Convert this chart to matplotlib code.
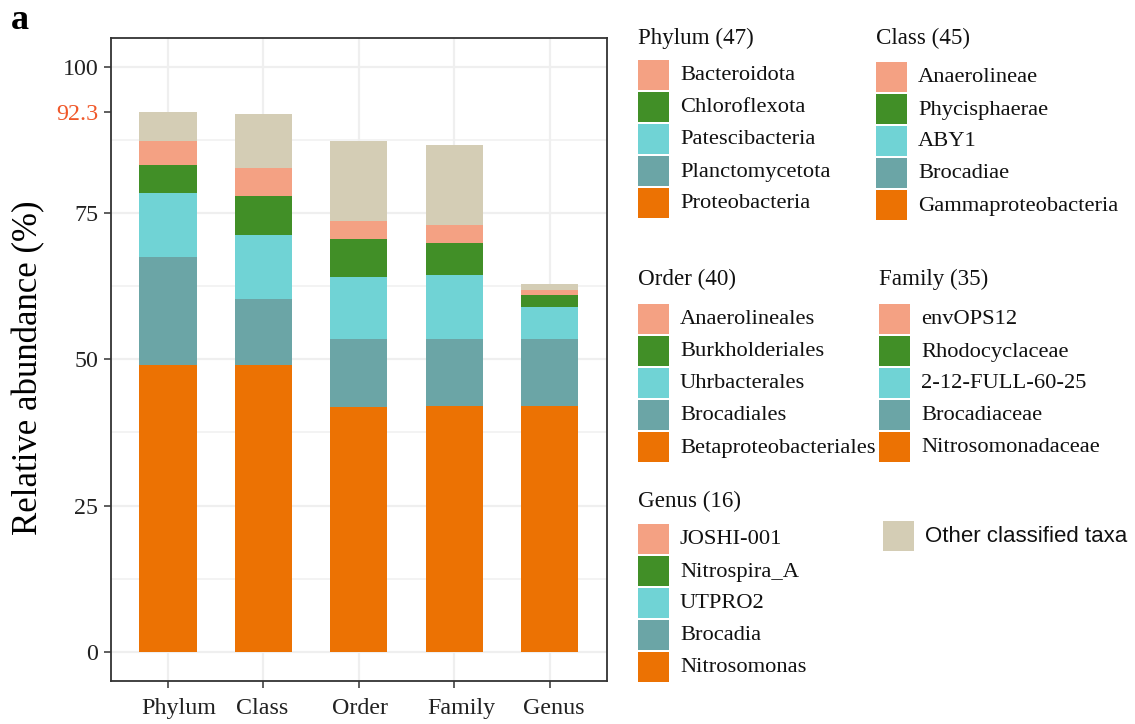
import matplotlib
matplotlib.use("Agg")
import matplotlib.pyplot as plt
from matplotlib.patches import Rectangle
from matplotlib.transforms import ScaledTranslation
import numpy as np

# Taxonomic levels on the x axis
levels = ["Phylum", "Class", "Order", "Family", "Genus"]

# Relative abundance (%) of the five dominant taxa at each level (rank 1 = most abundant)
rank1 = [49.0, 49.0, 41.9, 42.1, 42.1]
rank2 = [18.5, 11.3, 11.6, 11.4, 11.4]
rank3 = [10.9, 10.9, 10.5, 10.9, 5.4]
rank4 = [4.8, 6.7, 6.5, 5.5, 2.1]
rank5 = [4.2, 4.8, 3.1, 3.0, 0.8]
other = [4.9, 9.3, 13.8, 13.7, 1.1]

# Number of taxa detected at each level
taxa_counts = [47, 45, 40, 35, 16]

# Dominant taxa names, ordered rank 5 -> rank 1 (top to bottom in legend)
phylum_taxa = ["Bacteroidota", "Chloroflexota", "Patescibacteria", "Planctomycetota", "Proteobacteria"]
class_taxa = ["Anaerolineae", "Phycisphaerae", "ABY1", "Brocadiae", "Gammaproteobacteria"]
order_taxa = ["Anaerolineales", "Burkholderiales", "Uhrbacterales", "Brocadiales", "Betaproteobacteriales"]
family_taxa = ["envOPS12", "Rhodocyclaceae", "2-12-FULL-60-25", "Brocadiaceae", "Nitrosomonadaceae"]
genus_taxa = ["JOSHI-001", "Nitrospira_A", "UTPRO2", "Brocadia", "Nitrosomonas"]

highlight_value = 92.3

# Colours for rank1..rank5 and the remaining classified taxa
c_rank1 = "#EC7203"
c_rank2 = "#6BA5A6"
c_rank3 = "#70D3D5"
c_rank4 = "#418F27"
c_rank5 = "#F4A183"
c_other = "#D4CDB5"

SERIF = "Liberation Serif"
SANS = "Liberation Sans"

W, H = 1135, 724
fig = plt.figure(figsize=(W / 100, H / 100), dpi=100)

ax = fig.add_axes([110.7 / W, 1 - 681 / H, (607 - 110.7) / W, (681 - 37.7) / H])

x = np.arange(len(levels))
series = [rank1, rank2, rank3, rank4, rank5, other]
colors = [c_rank1, c_rank2, c_rank3, c_rank4, c_rank5, c_other]

# background grid (major + minor horizontal, major vertical)
for yv in [0, 25, 50, 75, 100]:
    ax.axhline(yv, color="#EFEFEF", lw=1.6, zorder=0)
for yv in [12.5, 37.5, 62.5, 87.5]:
    ax.axhline(yv, color="#F2F2F2", lw=1.3, zorder=0)
for xv in x:
    ax.axvline(xv, color="#EFEFEF", lw=1.6, zorder=0)

bottom = np.zeros(len(levels))
for vals, col in zip(series, colors):
    vals = np.asarray(vals)
    ax.bar(x, vals, bottom=bottom, width=0.6, color=col, edgecolor="none", zorder=2)
    bottom += vals

ax.set_xlim(-0.6, 4.6)
ax.set_ylim(-5, 105)

yt = [0, 25, 50, 75, highlight_value, 100]
ax.set_yticks(yt)
ax.set_yticklabels(["0", "25", "50", "75", f"{highlight_value:g}", "100"])
ax.set_xticks(x)

for lab in ax.get_yticklabels():
    lab.set_fontfamily(SERIF)
    lab.set_fontsize(17.3)
    lab.set_color("#222222")
ax.get_yticklabels()[4].set_color("#F0582A")

ax.tick_params(axis="both", length=5, width=1.1, color="#333333")
ax.tick_params(axis="y", pad=4)
ax.tick_params(axis="x", labelbottom=False)

# category labels: each starts a fixed distance left of its tick
label_tf = ax.get_xaxis_transform() + ScaledTranslation(-27 / 100, -33 / 100, fig.dpi_scale_trans)
for xi, name in zip(x, levels):
    ax.text(xi, 0, name, transform=label_tf, ha="left", va="baseline",
            fontfamily=SERIF, fontsize=17.3, color="#222222", clip_on=False)

for sp in ax.spines.values():
    sp.set_color("#333333")
    sp.set_linewidth(1.3)

ax.set_ylabel("Relative abundance (%)", fontfamily=SERIF, fontsize=25, labelpad=8, y=0.487)

fig.text(11 / W, 1 - 29 / H, "a", fontfamily=SERIF, fontweight="bold", fontsize=26,
         ha="left", va="baseline")


# --- legend groups drawn in pixel coordinates ---
def px(xp, yp):
    return xp / W, 1 - yp / H


def legend_group(x0, title_y, key_top, title, names, key_colors, text_dx=42, pitch=32, kh=30, kw=31):
    tx, ty = px(x0, title_y)
    fig.text(tx, ty, title, fontfamily=SERIF, fontsize=16.6, ha="left", va="center", color="#111111")
    for i, (nm, col) in enumerate(zip(names, key_colors)):
        top = key_top + i * pitch
        rx, ry = px(x0, top + kh)
        fig.add_artist(Rectangle((rx, ry), kw / W, kh / H, transform=fig.transFigure,
                                 facecolor=col, edgecolor="none"))
        lx, ly = px(x0 + text_dx, top + kh / 2 + 1)
        fig.text(lx, ly, nm, fontfamily=SERIF, fontsize=16.2, ha="left", va="center", color="#111111")


legend_colors = [c_rank5, c_rank4, c_rank3, c_rank2, c_rank1]
legend_group(638, 38, 60, f"Phylum ({taxa_counts[0]})", phylum_taxa, legend_colors)
legend_group(876, 38, 62, f"Class ({taxa_counts[1]})", class_taxa, legend_colors)
legend_group(638, 279, 304, f"Order ({taxa_counts[2]})", order_taxa, legend_colors)
legend_group(879, 279, 304, f"Family ({taxa_counts[3]})", family_taxa, legend_colors)
legend_group(638, 501, 524, f"Genus ({taxa_counts[4]})", genus_taxa, legend_colors)

# remaining classified taxa
rx, ry = px(883, 551)
fig.add_artist(Rectangle((rx, ry), 31 / W, 30 / H, transform=fig.transFigure,
                         facecolor=c_other, edgecolor="none"))
lx, ly = px(925, 537)
fig.text(lx, ly, "Other classified taxa", fontfamily=SANS, fontsize=16, ha="left", va="center",
         color="#111111")

fig.savefig("out.png", dpi=100, facecolor="white")
